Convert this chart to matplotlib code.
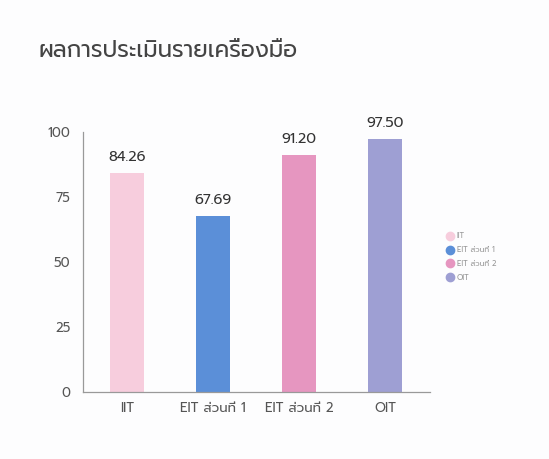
import matplotlib
matplotlib.use("Agg")
import matplotlib.pyplot as plt

# Data
categories = ['IIT', 'EIT ส่วนที่ 1', 'EIT ส่วนที่ 2', 'OIT']
scores = [84.26, 67.69, 91.20, 97.50]
yticks = [0, 25, 50, 75, 100]
bar_colors = ['#f7cddd', '#5b8fd8', '#e696c0', '#9e9fd3']

plt.rcParams['font.family'] = ['Prompt', 'DejaVu Sans']

fig = plt.figure(figsize=(5.49, 4.59), dpi=100, facecolor='#fdfdfe')
ax = fig.add_axes([0.151, 0.146, 0.632, 0.566])
ax.set_facecolor('#fdfdfe')

x = range(len(categories))
ax.bar(x, scores, width=0.39, color=bar_colors, label=categories)
for i, v in enumerate(scores):
    ax.text(i, v + 3.5, f'{v:.2f}', ha='center', va='bottom', fontsize=10.5, color='#333333')

ax.set_xlim(-0.51, 3.52)
ax.set_ylim(0, 100)
ax.set_yticks(yticks)
ax.set_xticks(list(x))
ax.set_xticklabels(categories)
ax.tick_params(axis='both', length=0, labelsize=9.5, labelcolor='#555555')
ax.tick_params(axis='y', pad=9)
ax.tick_params(axis='x', pad=7)
for s in ['top', 'right']:
    ax.spines[s].set_visible(False)
for s in ['left', 'bottom']:
    ax.spines[s].set_color('#999999')
    ax.spines[s].set_linewidth(0.9)

fig.text(0.071, 0.875, 'ผลการประเมินรายเครื่องมือ', fontsize=16.5, color='#444444')

handles = [plt.Line2D([], [], marker='o', ls='', color=c, markersize=6) for c in bar_colors]
fig.legend(handles, categories, loc='center left', bbox_to_anchor=(0.8, 0.44),
           frameon=False, fontsize=5.5, labelcolor='#999999', handletextpad=0.4,
           labelspacing=0.75, handlelength=1)

fig.savefig('out.png', dpi=100, facecolor=fig.get_facecolor())
